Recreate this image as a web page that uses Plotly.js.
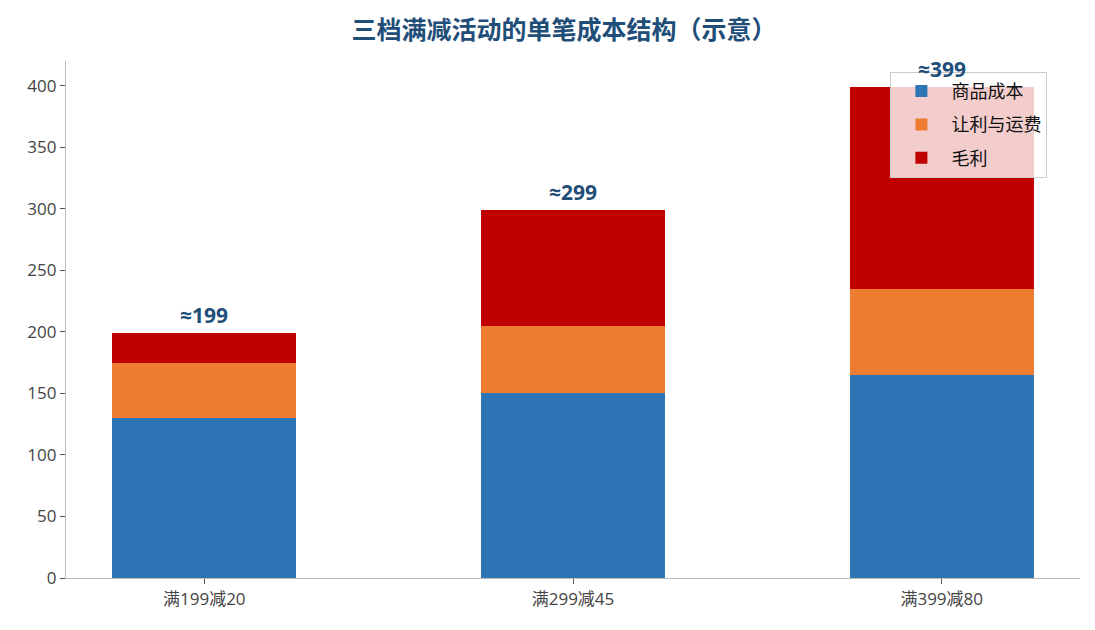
<!DOCTYPE html>
<html><head><meta charset="utf-8">
<script src="https://cdn.plot.ly/plotly-3.0.1.min.js"></script>
<style>body{margin:0;background:#fff}#c{width:1095px;height:630px}</style>
</head><body><div id="c"></div>
<script>
const categories = ['满199减20', '满299减45', '满399减80'];
const goodsCost = [130, 150, 165];
const discountShipping = [45, 55, 70];
const grossProfit = [24, 94, 164];
const totalLabels = ['≈199', '≈299', '≈399'];
const seriesNames = ['商品成本', '让利与运费', '毛利'];
const colors = ['#2e75b6', '#ed7d31', '#c00000'];

const FONT = '"Open Sans", "Noto Sans CJK SC", sans-serif';
const CJK = '"Noto Sans CJK SC", sans-serif';
const totals = categories.map((_, i) => goodsCost[i] + discountShipping[i] + grossProfit[i]);

const traces = [goodsCost, discountShipping, grossProfit].map((vals, k) => ({
  type: 'bar', name: seriesNames[k], x: categories, y: vals, legendgroup: 'g' + k,
  marker: {color: colors[k], line: {width: 0}}, width: 0.5, hoverinfo: 'skip'
}));

const annotations = categories.map((c, i) => ({
  x: c, y: totals[i], text: '<b>' + totalLabels[i] + '</b>', showarrow: false,
  yanchor: 'bottom', yshift: 2, font: {family: FONT, size: 21, color: '#1f4e79'}
}));

const layout = {
  width: 1095, height: 630,
  margin: {l: 66, r: 15, t: 61, b: 52},
  paper_bgcolor: '#fff', plot_bgcolor: '#fff',
  barmode: 'stack', bargap: 0.5,
  font: {family: FONT},
  title: {text: '<b>三档满减活动的单笔成本结构（示意）</b>', x: 0.515, xanchor: 'center', y: 0.952, yanchor: 'middle',
    font: {family: CJK, size: 25, color: '#1f4e79'}},
  xaxis: {range: [-0.375, 2.375], showgrid: false, zeroline: false, showline: true, linecolor: '#bbbbbb', linewidth: 1.2,
    ticks: 'outside', ticklen: 5, tickcolor: '#555', tickfont: {family: FONT, size: 17, color: '#444'}, fixedrange: true},
  yaxis: {range: [0, 420], tickvals: [0, 50, 100, 150, 200, 250, 300, 350, 400], showgrid: false, zeroline: false,
    showline: true, linecolor: '#bbbbbb', linewidth: 1.2, ticks: 'outside', ticklen: 5, tickcolor: '#555',
    tickfont: {family: FONT, size: 17, color: '#444'}, fixedrange: true},
  legend: {x: 0.813, y: 0.979, xanchor: 'left', yanchor: 'top', bgcolor: 'rgba(255,255,255,0.8)',
    bordercolor: '#cccccc', borderwidth: 1, font: {family: CJK, size: 18, color: '#111'}, traceorder: 'grouped',
    tracegroupgap: 7, itemwidth: 50, entrywidth: 0},
  annotations: annotations,
  showlegend: true
};

Plotly.newPlot('c', traces, layout, {displayModeBar: false, staticPlot: true});
</script></body></html>
